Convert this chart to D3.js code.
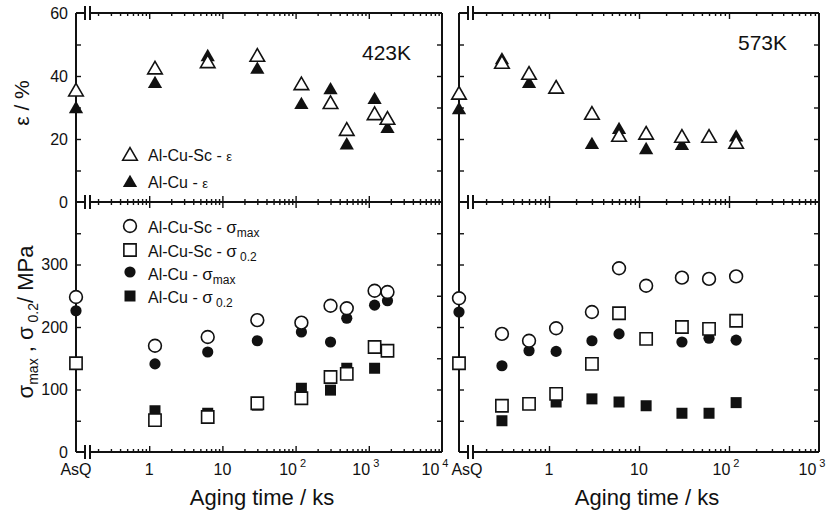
<!DOCTYPE html>
<html><head><meta charset="utf-8">
<script src="https://cdn.jsdelivr.net/npm/d3@7"></script>
<style>
body{margin:0;background:#fff}
svg{display:block}
text{font-family:"Liberation Sans",Arial,Helvetica,sans-serif;fill:#111}
</style>
</head><body>
<svg id="c" width="835" height="516"></svg>
<script>
// ---------- data (aging time in ks; "AsQ" = as-quenched) ----------
const times423 = ["AsQ", 1.2, 6.3, 30, 120, 300, 500, 1200, 1800];
const epsSc423 = [35, 42, 44, 46, 37, 31, 22.5, 27.5, 26];
const epsCu423 = [29.5, 37.5, 46, 42, 30.8, 35.5, 18, 32.4, 23.2];
const smaxSc423 = [248, 170, 184, 211, 207, 234, 230, 258, 256];
const smaxCu423 = [226, 141, 160, 178, 192, 176, 214, 235, 242];
const s02Sc423 = [142, 51, 56, 78, 86, 120, 125, 168, 162];
const s02Cu423 = [142, 66, 62, 75, 102, 99, 134, 134, null];

const times573 = ["AsQ", 0.3, 0.6, 1.2, 3, 6, 12, 30, 60, 120];
const epsSc573 = [34, 43.8, 40.3, 35.9, 27.6, 20.6, 21.3, 20.3, 20.3, 18.4];
const epsCu573 = [29.2, 45, 37.5, 36, 18.1, 22.9, 16.5, 17.8, 20, 20.5];
const smaxSc573 = [246, 189, 178, 198, 224, 294, 266, 279, 277, 281];
const smaxCu573 = [224, 138, 162, 161, 178, 189, 180, 176, 182, 179];
const s02Sc573 = [142, 74, 77, 93, 141, 222, 181, 200, 197, 210];
const s02Cu573 = [142, 50, 76, 80, 85, 80, 74, 62, 62, 79];

const xTickValues423 = ["AsQ", 1, 10, 100, 1000, 10000];
const xTickLabels423 = ["AsQ", "1", "10", "10^2", "10^3", "10^4"];
const xTickValues573 = ["AsQ", 1, 10, 100, 1000];
const xTickLabels573 = ["AsQ", "1", "10", "10^2", "10^3"];
const yTicksEps = [0, 20, 40, 60];
const yMinorEps = [10, 30, 50];
const yTicksSig = [0, 100, 200, 300];
const yMinorSig = [50, 150, 250, 350];
const tempLabels = ["423K", "573K"];
const legendEps = ["Al-Cu-Sc - ", "Al-Cu - "];
const legendSig = [["Al-Cu-Sc - ", "max"], ["Al-Cu-Sc - ", " 0.2"], ["Al-Cu - ", "max"], ["Al-Cu - ", " 0.2"]];

// ---------- layout ----------
const svg = d3.select("#c");
const ink = "#111";
const yTop = d3.scaleLinear().domain([0, 60]).range([202, 13]);
const yBot = d3.scaleLinear().domain([0, 400]).range([452, 202]);

const panels = [
  {times: times423, eSc: epsSc423, eCu: epsCu423, mSc: smaxSc423, mCu: smaxCu423, pSc: s02Sc423, pCu: s02Cu423,
   x: d3.scaleLog().domain([0.1, 1e4]).range([76, 442]), tv: xTickValues423, tl: xTickLabels423,
   asqDx: 0, temp: tempLabels[0], tempX: 362, tempY: 60, titleX: 262, labelled: true},
  {times: times573, eSc: epsSc573, eCu: epsCu573, mSc: smaxSc573, mCu: smaxCu573, pSc: s02Sc573, pCu: s02Cu573,
   x: d3.scaleLog().domain([0.1, 1e3]).range([459, 819]), tv: xTickValues573, tl: xTickLabels573,
   asqDx: 8, temp: tempLabels[1], tempX: 738, tempY: 50, titleX: 647, labelled: false}
];

function xs(p, t) { return p.x(t === "AsQ" ? p.x.domain()[0] : t); }

function styleAxis(g) {
  g.select(".domain").remove();
  g.selectAll(".tick line").attr("stroke", ink).attr("stroke-width", 1.4);
  g.selectAll(".tick text").attr("font-size", 16).attr("fill", ink);
}

panels.forEach(p => {
  const [x0, x1] = p.x.range();
  const lo = Math.log10(p.x.domain()[0]), hi = Math.log10(p.x.domain()[1]);
  const majors = p.tv.filter(v => v !== "AsQ" && v < p.x.domain()[1]);
  const minors = [];
  for (let k = lo; k < hi; k++) for (let d = 2; d <= 9; d++) minors.push(d * Math.pow(10, k));

  // frames with axis breaks
  const frame = svg.append("g").attr("stroke", ink).attr("stroke-width", 2).attr("fill", "none");
  [[13, 202], [202, 452]].forEach(([ya, yb]) => {
    frame.append("line").attr("x1", x0).attr("x2", x0).attr("y1", ya).attr("y2", yb);
    frame.append("line").attr("x1", x1).attr("x2", x1).attr("y1", ya).attr("y2", yb);
  });
  [13, 202, 452].forEach(yy => {
    frame.append("line").attr("x1", x0).attr("x2", x0 + 9).attr("y1", yy).attr("y2", yy);
    frame.append("line").attr("x1", x0 + 14).attr("x2", x1).attr("y1", yy).attr("y2", yy);
    frame.append("line").attr("x1", x0 + 9).attr("x2", x0 + 9).attr("y1", yy - 7).attr("y2", yy + 7);
    frame.append("line").attr("x1", x0 + 14).attr("x2", x0 + 14).attr("y1", yy - 7).attr("y2", yy + 7);
  });

  // x ticks (inward), majors long, minors short
  [[13, "top"], [202, "bottom"], [202, "top"], [452, "bottom"]].forEach(([yy, side]) => {
    const mk = side === "top" ? d3.axisTop : d3.axisBottom;
    svg.append("g").attr("transform", `translate(0,${yy})`)
      .call(mk(p.x).tickValues(majors).tickSizeInner(-6).tickSizeOuter(0).tickFormat("")).call(styleAxis);
    svg.append("g").attr("transform", `translate(0,${yy})`)
      .call(mk(p.x).tickValues(minors).tickSizeInner(-3).tickSizeOuter(0).tickFormat("")).call(styleAxis);
  });

  // y ticks (inward) on both sides
  [[yTop, yTicksEps.concat(yMinorEps)], [yBot, yTicksSig.concat(yMinorSig)]].forEach(([ys, vals], i) => {
    const labVals = i === 0 ? yTicksEps : yTicksSig;
    const inner = vals.filter(v => v > ys.domain()[0] && v < ys.domain()[1]);
    svg.append("g").attr("transform", `translate(${x0},0)`)
      .call(d3.axisLeft(ys).tickValues(inner).tickSizeInner(-5).tickSizeOuter(0).tickFormat("")).call(styleAxis);
    svg.append("g").attr("transform", `translate(${x1},0)`)
      .call(d3.axisRight(ys).tickValues(inner).tickSizeInner(-5).tickSizeOuter(0).tickFormat("")).call(styleAxis);
    if (p.labelled) {
      svg.append("g").attr("transform", `translate(${x0},0)`)
        .call(d3.axisLeft(ys).tickValues(labVals).tickSizeInner(0).tickSizeOuter(0).tickPadding(8)).call(styleAxis);
    }
  });

  // x tick labels
  const xMax = p.x.domain()[1];
  p.tv.forEach((v, i) => {
    const lab = p.tl[i];
    const t = svg.append("text").attr("font-size", 16).attr("y", 475).attr("text-anchor", "middle");
    if (v === "AsQ") { t.attr("x", xs(p, v) + p.asqDx).text(lab); return; }
    if (lab.includes("^")) {
      const [b, s] = lab.split("^");
      t.attr("x", p.x(v) - (v >= xMax ? 7 : 3));
      t.append("tspan").text(b);
      t.append("tspan").attr("font-size", 11).attr("dx", 3).attr("dy", -8).text(s);
    } else t.attr("x", p.x(v)).text(lab);
  });

  // x title
  svg.append("text").attr("x", p.titleX).attr("y", 505).attr("text-anchor", "middle")
    .attr("font-size", 22).text("Aging time / ks");
  // temperature
  svg.append("text").attr("x", p.tempX).attr("y", p.tempY).attr("font-size", 21).text(p.temp);

  // markers
  const gm = svg.append("g");
  const tri = (s) => d3.symbol().type(d3.symbolTriangle).size(s)();
  const sq = (s) => d3.symbol().type(d3.symbolSquare).size(s)();
  const pts = (arr) => p.times.map((t, i) => ({t, v: arr[i]})).filter(d => d.v != null);
  // filled first
  gm.selectAll(null).data(pts(p.eCu)).join("path").attr("d", tri(88))
    .attr("transform", d => `translate(${xs(p, d.t)},${yTop(d.v)})`).attr("fill", ink);
  gm.selectAll(null).data(pts(p.mCu)).join("circle").attr("r", 5.6)
    .attr("cx", d => xs(p, d.t)).attr("cy", d => yBot(d.v)).attr("fill", ink);
  gm.selectAll(null).data(pts(p.pCu)).join("path").attr("d", sq(121))
    .attr("transform", d => `translate(${xs(p, d.t)},${yBot(d.v)})`).attr("fill", ink);
  // open on top
  gm.selectAll(null).data(pts(p.eSc)).join("path").attr("d", tri(92))
    .attr("transform", d => `translate(${xs(p, d.t)},${yTop(d.v)})`)
    .attr("fill", "#fff").attr("stroke", ink).attr("stroke-width", 1.6);
  gm.selectAll(null).data(pts(p.mSc)).join("circle").attr("r", 6.4)
    .attr("cx", d => xs(p, d.t)).attr("cy", d => yBot(d.v))
    .attr("fill", "#fff").attr("stroke", ink).attr("stroke-width", 1.6);
  gm.selectAll(null).data(pts(p.pSc)).join("path").attr("d", sq(150))
    .attr("transform", d => `translate(${xs(p, d.t)},${yBot(d.v)})`)
    .attr("fill", "#fff").attr("stroke", ink).attr("stroke-width", 1.6);
});

// ---------- legends ----------
const tri = (s) => d3.symbol().type(d3.symbolTriangle).size(s)();
const sq = (s) => d3.symbol().type(d3.symbolSquare).size(s)();
const lg = svg.append("g");
lg.append("path").attr("d", tri(92)).attr("transform", "translate(130,156)")
  .attr("fill", "#fff").attr("stroke", ink).attr("stroke-width", 1.6);
lg.append("path").attr("d", tri(88)).attr("transform", "translate(130,183)").attr("fill", ink);
[[161, legendEps[0]], [188, legendEps[1]]].forEach(([yy, s]) => {
  const t = lg.append("text").attr("x", 148).attr("y", yy).attr("font-size", 16).text(s);
  t.append("tspan").attr("font-size", 13).text("ε");
});
lg.append("circle").attr("cx", 130).attr("cy", 226).attr("r", 6.4)
  .attr("fill", "#fff").attr("stroke", ink).attr("stroke-width", 1.6);
lg.append("path").attr("d", sq(150)).attr("transform", "translate(130,250)")
  .attr("fill", "#fff").attr("stroke", ink).attr("stroke-width", 1.6);
lg.append("circle").attr("cx", 130).attr("cy", 272).attr("r", 5.6).attr("fill", ink);
lg.append("path").attr("d", sq(121)).attr("transform", "translate(130,296)").attr("fill", ink);
[233, 257, 280, 303].forEach((yy, i) => {
  const t = lg.append("text").attr("x", 148).attr("y", yy).attr("font-size", 16).text(legendSig[i][0]);
  t.append("tspan").attr("font-size", 17).text("σ");
  t.append("tspan").attr("font-size", 12).attr("dy", 4).text(legendSig[i][1]);
});

// ---------- y titles ----------
svg.append("text").attr("transform", "translate(29,103) rotate(-90)").attr("text-anchor", "middle")
  .attr("font-size", 21).text("ε / %");
const yt = svg.append("text").attr("transform", "translate(33,322) rotate(-90)").attr("text-anchor", "middle")
  .attr("font-size", 22);
yt.append("tspan").text("σ");
yt.append("tspan").attr("font-size", 14).attr("dy", 5).text("max");
yt.append("tspan").attr("dy", -5).text(" , σ");
yt.append("tspan").attr("font-size", 14).attr("dy", 5).text(" 0.2");
yt.append("tspan").attr("dy", -5).text("/ MPa");
</script>
</body></html>
